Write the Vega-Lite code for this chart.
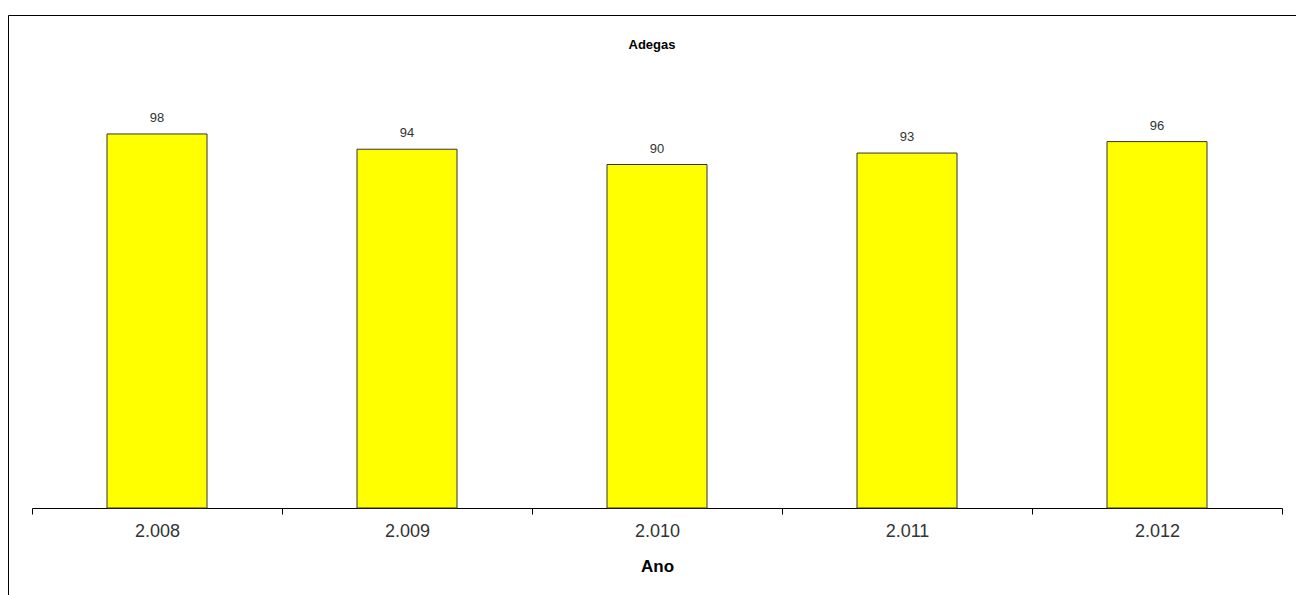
{
  "$schema": "https://vega.github.io/schema/vega-lite/v6.json",
  "autosize": "none",
  "padding": {"left": 8, "top": 15, "right": 0, "bottom": 0},
  "width": 1300,
  "height": 600,
  "background": "white",
  "title": {
    "text": "Adegas",
    "font": "Liberation Sans",
    "fontSize": 13,
    "fontWeight": "bold",
    "color": "#000000",
    "anchor": "middle",
    "offset": -37,
    "dx": -6
  },
  "data": {
    "values": [
      {"Ano": "2.008", "Adegas": 98},
      {"Ano": "2.009", "Adegas": 94},
      {"Ano": "2.010", "Adegas": 90},
      {"Ano": "2.011", "Adegas": 93},
      {"Ano": "2.012", "Adegas": 96}
    ]
  },
  "encoding": {
    "x": {
      "field": "Ano",
      "type": "nominal",
      "sort": null,
      "scale": {"range": [24, 1274], "paddingInner": 0, "paddingOuter": 0},
      "axis": {
        "title": "Ano",
        "orient": "bottom",
        "offset": -107,
        "labelAngle": 0,
        "tickBand": "extent",
        "tickSize": 6,
        "tickColor": "#000000",
        "domainColor": "#000000",
        "domainWidth": 1,
        "tickWidth": 1,
        "labelFont": "Liberation Sans",
        "labelFontSize": 18,
        "labelColor": "#333333",
        "labelPadding": 8,
        "titleFont": "Liberation Sans",
        "titleFontSize": 17,
        "titleFontWeight": "bold",
        "titleColor": "#000000",
        "titlePadding": 18,
        "grid": false
      }
    },
    "y": {
      "field": "Adegas",
      "type": "quantitative",
      "scale": {"domain": [0, 120], "range": [493, 35], "nice": false, "zero": true},
      "axis": null
    }
  },
  "layer": [
    {
      "mark": {"type": "bar", "width": {"band": 0.4}, "fill": "#FFFF00", "stroke": "#333333", "strokeWidth": 1}
    },
    {
      "mark": {"type": "text", "baseline": "bottom", "dy": -9, "font": "Liberation Sans", "fontSize": 13, "color": "#333333"},
      "encoding": {"text": {"field": "Adegas", "type": "quantitative"}}
    }
  ],
  "config": {
    "view": {"stroke": "#000000", "strokeWidth": 1}
  }
}
